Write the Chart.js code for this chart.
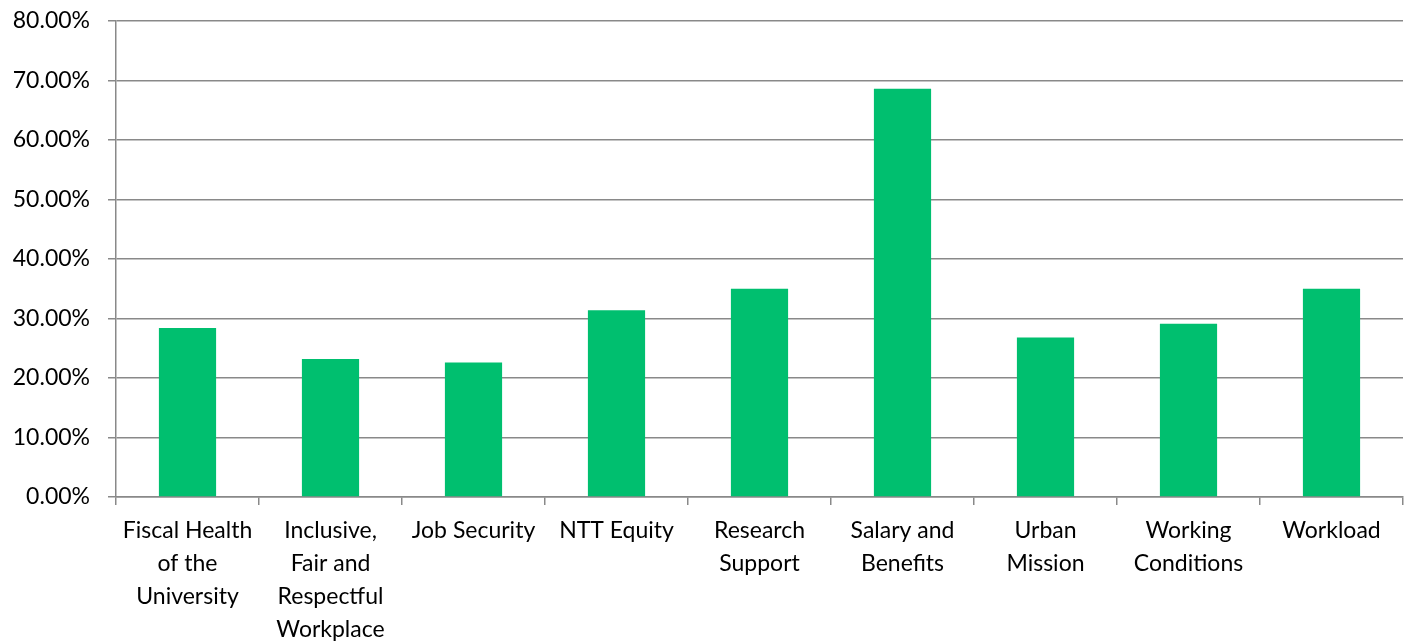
<!DOCTYPE html>
<html>
<head>
<meta charset="utf-8">
<script src="https://cdn.jsdelivr.net/npm/chart.js@4/dist/chart.umd.min.js"></script>
<style>
  html, body { margin: 0; padding: 0; background: #fff; }
  #wrap { width: 1411px; height: 642px; }
</style>
</head>
<body>
<div id="wrap"><canvas id="chart" width="1411" height="642"></canvas></div>
<script>
// categorías (etiquetas multilínea como en el original)
const categories = [
  ["Fiscal Health", "of the", "University"],
  ["Inclusive,", "Fair and", "Respectful", "Workplace"],
  ["Job Security"],
  ["NTT Equity"],
  ["Research", "Support"],
  ["Salary and", "Benefits"],
  ["Urban", "Mission"],
  ["Working", "Conditions"],
  ["Workload"]
];
// porcentaje
const values = [28.4, 23.2, 22.6, 31.4, 35.0, 68.6, 26.8, 29.1, 35.0];

const yMin = 0, yMax = 80, yStep = 10;

const GRID = "#898989";
const TXT = "#000";
const FONT = { family: "Lato, 'Open Sans', sans-serif", size: 23, lineHeight: 1.43 };

new Chart(document.getElementById("chart").getContext("2d"), {
  type: "bar",
  data: {
    labels: categories,
    datasets: [{
      data: values,
      backgroundColor: "#00BF6F",
      borderWidth: 0,
      categoryPercentage: 1,
      barPercentage: 0.4
    }]
  },
  options: {
    responsive: false,
    animation: false,
    layout: { padding: { top: 21, right: 8, left: 0, bottom: 0 } },
    plugins: { legend: { display: false }, tooltip: { enabled: false } },
    scales: {
      x: {
        grid: { display: true, drawOnChartArea: false, drawTicks: true, tickLength: 8, color: GRID, tickColor: GRID, lineWidth: 1.5, offset: true },
        border: { display: true, color: GRID, width: 1.5 },
        ticks: { color: TXT, font: FONT, maxRotation: 0, minRotation: 0, autoSkip: false, padding: 9 },
        afterFit: (s) => { s.height = 145; }
      },
      y: {
        min: yMin, max: yMax,
        grid: { color: GRID, tickColor: GRID, lineWidth: 1.5, tickLength: 8 },
        border: { display: true, color: GRID, width: 1.5 },
        ticks: { stepSize: yStep, color: TXT, font: FONT, padding: 18, callback: (v) => v.toFixed(2) + "%" },
        afterFit: (s) => { s.width = 116; s.paddingTop = 0; s.paddingBottom = 0; }
      }
    }
  }
});
</script>
</body>
</html>
